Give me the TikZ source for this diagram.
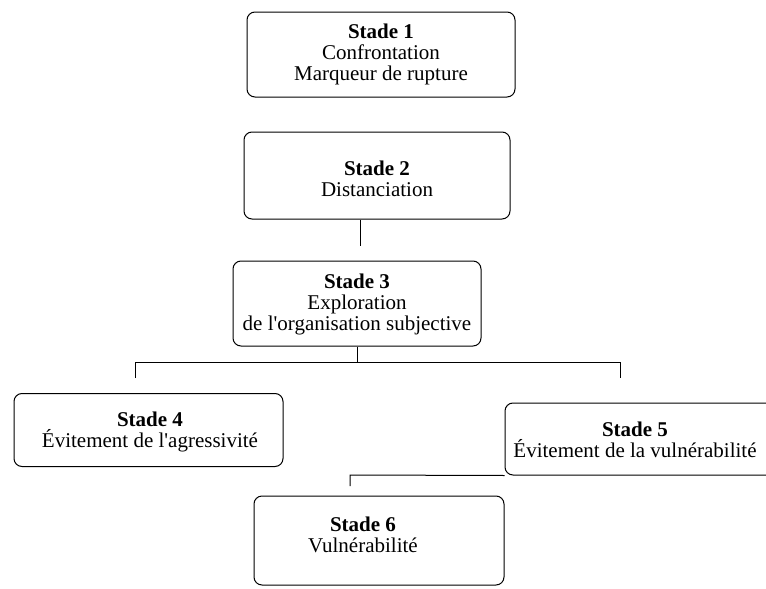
\documentclass[tikz,border=0pt]{standalone}
\usepackage{fontspec}
\setmainfont{Liberation Serif}
\begin{document}
\begin{tikzpicture}[x=1pt,y=-1pt,
  stbox/.style={draw=black, line width=1pt, rounded corners=8pt, inner sep=0pt},
  sttxt/.style={align=center, inner sep=0pt, font=\fontsize{21}{21}\selectfont},
  conn/.style={draw=black, line width=1pt}]
\useasboundingbox (0,0) rectangle (766,589);
\clip (0,0) rectangle (766,589);
% boxes
\node[stbox, minimum width=268pt, minimum height=85pt] (s1) at (381,54.5) {};
\node[stbox, minimum width=266pt, minimum height=87pt] (s2) at (377,175.5) {};
\node[stbox, minimum width=248pt, minimum height=85pt] (s3) at (357,303.5) {};
\node[stbox, minimum width=269pt, minimum height=73pt] (s4) at (148.5,430) {};
\node[stbox, minimum width=270pt, minimum height=72pt] (s5) at (640,439) {};
\node[stbox, minimum width=250pt, minimum height=89pt] (s6) at (379,540.5) {};
% texts
\node[sttxt] (t1) at (381,54) {\textbf{Stade 1}\\Confrontation\\Marqueur de rupture};
\node[sttxt] (t2) at (377,179) {\textbf{Stade 2}\\Distanciation};
\node[sttxt] (t3) at (357,304) {\textbf{Stade 3}\\Exploration\\de l\textquotesingle organisation subjective};
\node[sttxt] (t4) at (150,432) {\textbf{Stade 4}\\Évitement de l\textquotesingle agressivité};
\node[sttxt] (t5) at (635,440) {\textbf{Stade 5}\\Évitement de la vulnérabilité};
\node[sttxt] (t6) at (363,535) {\textbf{Stade 6}\\Vulnérabilité};
% connectors
\coordinate (c23) at (360,246);
\draw[conn] (s2.south -| c23) -- (c23);
\coordinate (c3) at (357,362);
\coordinate (bl) at (135,362);
\coordinate (br) at (620,362);
\coordinate (bl2) at (135,378);
\coordinate (br2) at (620,378);
\draw[conn] (s3.south -| c3) -- (c3);
\draw[conn] (bl2) -- (bl) -- (br) -- (br2);
\coordinate (c56) at (350,475);
\coordinate (c56b) at (350,486);
\draw[conn] (s5.south west) -- (c56) -- (c56b);
\end{tikzpicture}
\end{document}
